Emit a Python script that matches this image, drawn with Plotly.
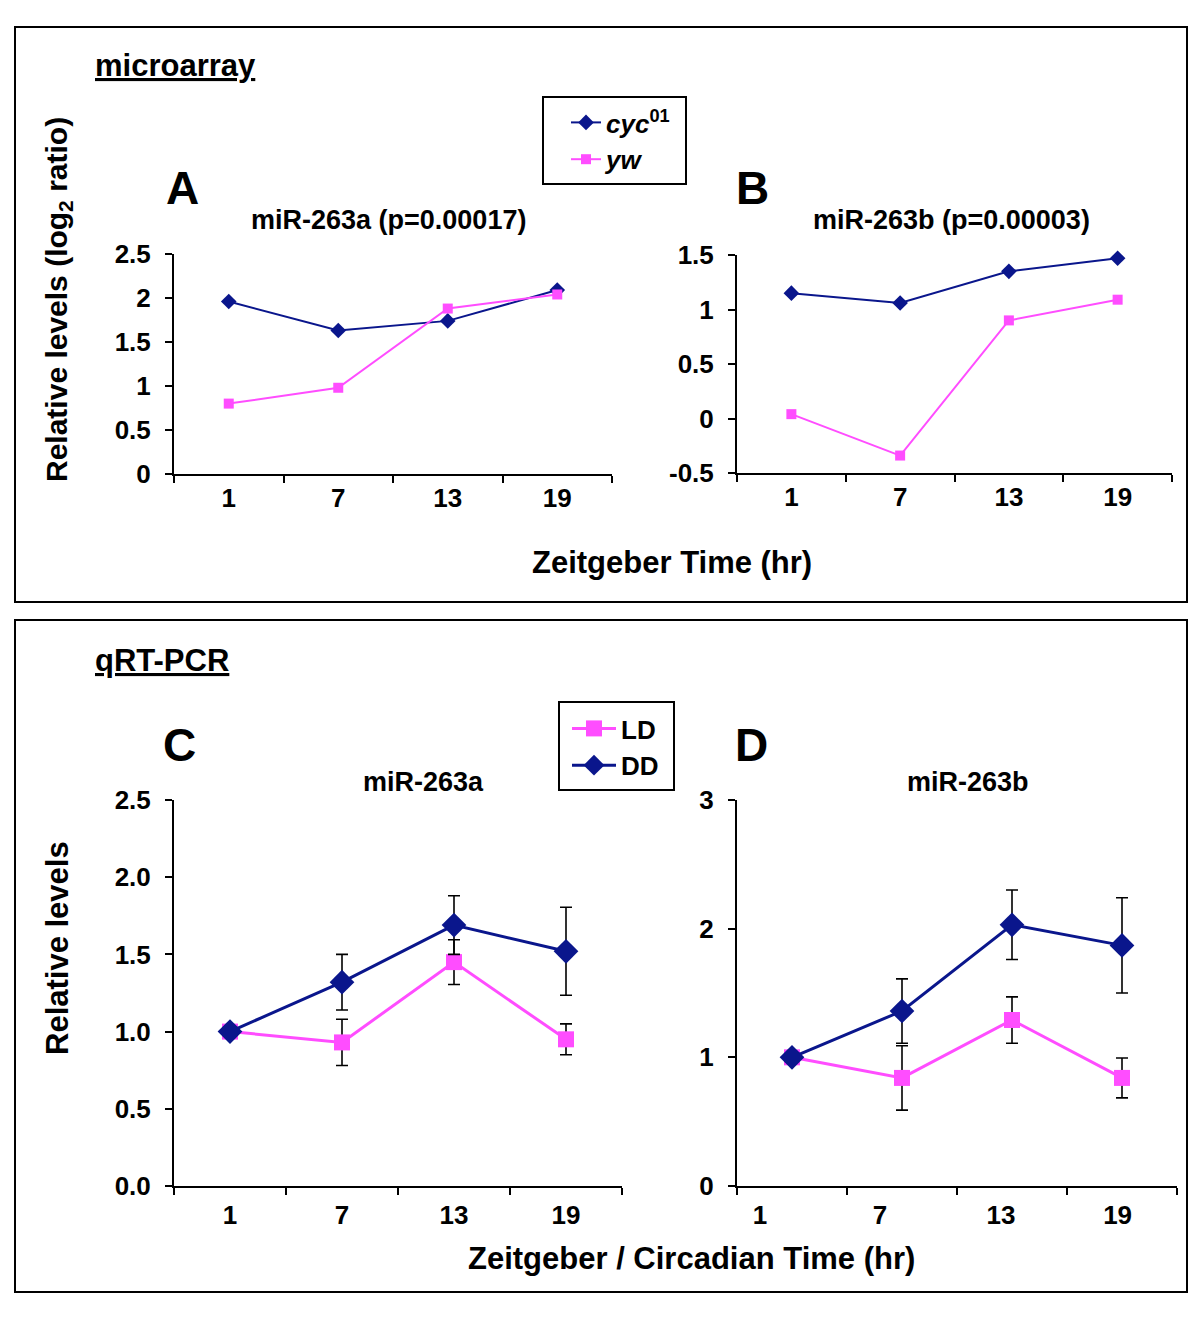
import plotly.graph_objects as go

# time points (hr), shared by all four panels
hours = ['1', '7', '13', '19']

# A: microarray miR-263a, log2 ratio
a_cyc = [1.96, 1.63, 1.74, 2.09]
a_yw = [0.80, 0.98, 1.88, 2.04]

# B: microarray miR-263b, log2 ratio
b_cyc = [1.15, 1.06, 1.35, 1.47]
b_yw = [0.04, -0.34, 0.90, 1.09]

# C: qRT-PCR miR-263a, relative levels with error
c_ld = [1.00, 0.93, 1.45, 0.95]
c_ld_err = [0.0, 0.15, 0.145, 0.10]
c_dd = [1.00, 1.32, 1.69, 1.52]
c_dd_err = [0.0, 0.18, 0.19, 0.285]

# D: qRT-PCR miR-263b, relative levels with error
d_ld = [1.00, 0.84, 1.29, 0.84]
d_ld_err = [0.0, 0.25, 0.18, 0.155]
d_dd = [1.00, 1.36, 2.03, 1.87]
d_dd_err = [0.0, 0.25, 0.27, 0.37]

NAVY = '#0a168c'
PINK = '#ff4dff'
FONT = 'Liberation Sans, Arial, sans-serif'

# the page body has an 8px margin, so the figure is a bit smaller than the window
# and all page-pixel positions below get shifted by that margin
PAGE_M = 8
W, H = 1200 - 2 * PAGE_M, 1320 - 2 * PAGE_M

# categories sit in the middle of their slot, boundaries get the tick marks
xpos = [i + 0.5 for i in range(len(hours))]
# panel D labels were placed off-centre in the original figure
d_label_pos = [0.21, 1.30, 2.40, 3.46]


def px(x):
    return (x - PAGE_M) / W


def py(y):
    return 1 - (y - PAGE_M) / H


def dom_x(x0, x1):
    return [px(x0), px(x1)]


def dom_y(top, bottom):
    return [py(bottom), py(top)]


fig = go.Figure()


def add_line(name, y, color, symbol, xa, ya, size, width, legend=None, err=None, show=False):
    tr = go.Scatter(
        x=xpos, y=y, name=name, mode='lines+markers',
        line=dict(color=color, width=width),
        marker=dict(color=color, symbol=symbol, size=size),
        xaxis=xa, yaxis=ya, showlegend=show, cliponaxis=False,
    )
    if legend:
        tr.legend = legend
    if err is not None:
        tr.error_y = dict(type='data', array=err, visible=True, color='black',
                          thickness=1.6, width=6)
    fig.add_trace(tr)


# panel A (legend traces)
add_line('<i>cyc</i><sup>01</sup>', a_cyc, NAVY, 'diamond', 'x', 'y', 12, 2, 'legend', show=True)
add_line('<i>yw</i>', a_yw, PINK, 'square', 'x', 'y', 10, 2, 'legend', show=True)
# panel B
add_line('cyc', b_cyc, NAVY, 'diamond', 'x2', 'y2', 12, 2)
add_line('yw', b_yw, PINK, 'square', 'x2', 'y2', 10, 2)
# panel C (legend traces)
add_line('LD', c_ld, PINK, 'square', 'x3', 'y3', 16, 3, 'legend2', c_ld_err, show=True)
add_line('DD', c_dd, NAVY, 'diamond', 'x3', 'y3', 19, 3, 'legend2', c_dd_err, show=True)
# panel D
add_line('LD', d_ld, PINK, 'square', 'x4', 'y4', 16, 3, err=d_ld_err)
add_line('DD', d_dd, NAVY, 'diamond', 'x4', 'y4', 19, 3, err=d_dd_err)

tickfont = dict(family=FONT, size=26, color='black', weight='bold')


def xaxis(domain, anchor, labelpos, standoff):
    return dict(domain=domain, anchor=anchor, range=[0, 4], showgrid=False, zeroline=False,
                showline=True, linecolor='black', linewidth=2,
                tickmode='array', tickvals=labelpos, ticktext=hours, ticks='',
                tickfont=tickfont, ticklabelstandoff=standoff,
                minor=dict(tickmode='array', tickvals=[0, 1, 2, 3, 4], ticks='outside',
                           ticklen=7, tickwidth=2, tickcolor='black'))


def yaxis(domain, anchor, rng, tickvals, ticktext):
    return dict(domain=domain, anchor=anchor, range=rng, showgrid=False, zeroline=False,
                showline=True, linecolor='black', linewidth=2,
                tickmode='array', tickvals=tickvals, ticktext=ticktext,
                ticks='outside', ticklen=7, tickwidth=2, tickcolor='black',
                tickfont=tickfont, ticklabelstandoff=9)


legend_font = dict(family=FONT, size=26, color='black', weight='bold')

fig.update_layout(
    width=W, height=H, margin=dict(l=0, r=0, t=0, b=0, autoexpand=False),
    paper_bgcolor='white', plot_bgcolor='white',
    font=dict(family=FONT, color='black'),
    xaxis=xaxis(dom_x(174, 612), 'y', xpos, 0),
    yaxis=yaxis(dom_y(254, 474), 'x', [0, 2.5], [0, 0.5, 1, 1.5, 2, 2.5],
                ['0', '0.5', '1', '1.5', '2', '2.5']),
    xaxis2=xaxis(dom_x(737, 1172), 'y2', xpos, 0),
    yaxis2=yaxis(dom_y(255, 473), 'x2', [-0.5, 1.5], [-0.5, 0, 0.5, 1, 1.5],
                 ['-0.5', '0', '0.5', '1', '1.5']),
    xaxis3=xaxis(dom_x(174, 622), 'y3', xpos, 5),
    yaxis3=yaxis(dom_y(800, 1186), 'x3', [0, 2.5], [0, 0.5, 1, 1.5, 2, 2.5],
                 ['0.0', '0.5', '1.0', '1.5', '2.0', '2.5']),
    xaxis4=xaxis(dom_x(737, 1177), 'y4', d_label_pos, 5),
    yaxis4=yaxis(dom_y(800, 1186), 'x4', [0, 3], [0, 1, 2, 3], ['0', '1', '2', '3']),
    legend=dict(x=px(566), y=py(99), xanchor='left', yanchor='top',
                borderwidth=0, bgcolor='rgba(0,0,0,0)',
                font=legend_font, itemwidth=30, tracegroupgap=0),
    legend2=dict(x=px(567), y=py(705), xanchor='left', yanchor='top',
                 borderwidth=0, bgcolor='rgba(0,0,0,0)',
                 font=legend_font, itemwidth=44, tracegroupgap=0),
)

# outer frames of the two blocks
for top, bottom in [(27, 602), (620, 1292)]:
    fig.add_shape(type='rect', xref='paper', yref='paper', x0=px(15), x1=px(1187),
                  y0=py(bottom), y1=py(top), line=dict(color='black', width=2))
# legend frames
for x0, x1, top, bottom in [(543, 686, 97, 184), (559, 674, 702, 790)]:
    fig.add_shape(type='rect', xref='paper', yref='paper', x0=px(x0), x1=px(x1),
                  y0=py(bottom), y1=py(top), line=dict(color='black', width=2))


def text(x, y, s, size, anchor='center', angle=0):
    fig.add_annotation(x=px(x), y=py(y), xref='paper', yref='paper', text=s,
                       showarrow=False, xanchor=anchor, yanchor='middle', textangle=angle,
                       font=dict(family=FONT, size=size, color='black', weight='bold'))


text(93, 66, '<u>microarray</u>', 31, 'left')
text(93, 660, '<u>qRT-PCR</u>', 31, 'left')
text(182, 188, 'A', 46)
text(752, 188, 'B', 46)
text(180, 745, 'C', 46)
text(751, 745, 'D', 46)
text(389, 220, 'miR-263a (p=0.00017)', 27)
text(951, 220, 'miR-263b (p=0.00003)', 27)
text(423, 782, 'miR-263a', 27)
text(968, 782, 'miR-263b', 27)
text(58, 300, 'Relative levels (log<sub>2</sub> ratio)', 30, angle=-90)
text(58, 948, 'Relative levels', 31, angle=-90)
text(672, 562, 'Zeitgeber Time (hr)', 31)
text(691, 1258, 'Zeitgeber / Circadian Time (hr)', 31)

fig.write_html('out.html')
